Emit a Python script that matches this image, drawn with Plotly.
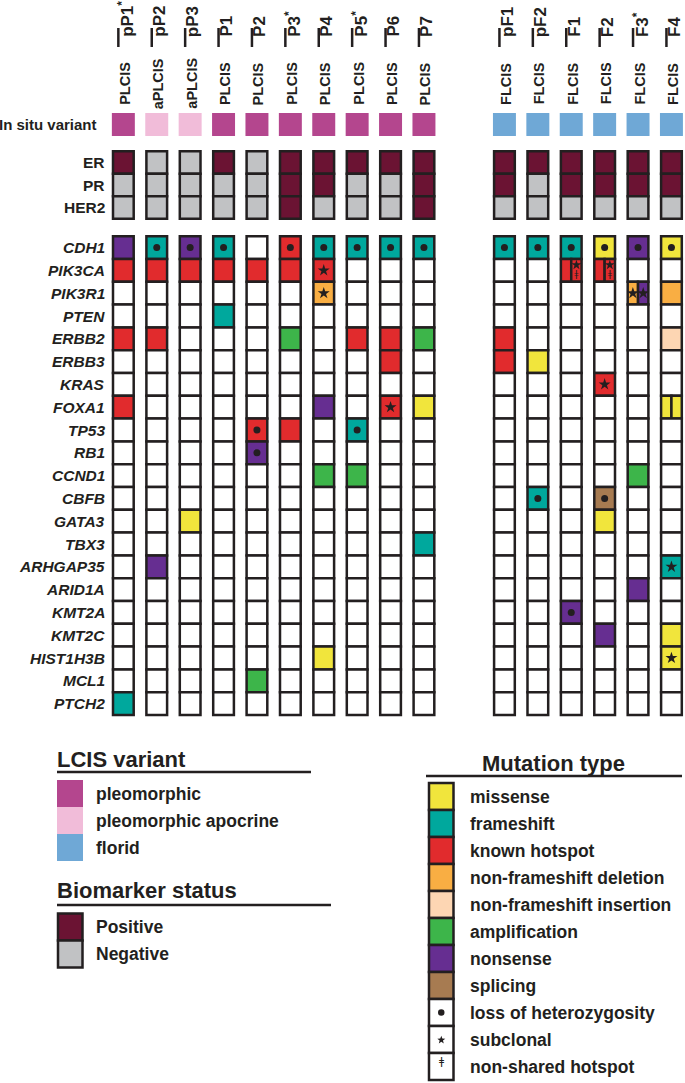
import math
import plotly.graph_objects as go

W, H = 685, 1083

# ---------------- data ----------------
columns = ["pP1*", "pP2", "pP3", "P1", "P2", "P3*", "P4", "P5*", "P6", "P7",
           "pF1", "pF2", "F1", "F2", "F3*", "F4"]
subtypes = ["PLCIS", "aPLCIS", "aPLCIS", "PLCIS", "PLCIS", "PLCIS", "PLCIS", "PLCIS", "PLCIS", "PLCIS",
            "FLCIS", "FLCIS", "FLCIS", "FLCIS", "FLCIS", "FLCIS"]
variants = ["pleomorphic", "pleomorphic apocrine", "pleomorphic apocrine", "pleomorphic", "pleomorphic",
            "pleomorphic", "pleomorphic", "pleomorphic", "pleomorphic", "pleomorphic",
            "florid", "florid", "florid", "florid", "florid", "florid"]

biomarkers = ["ER", "PR", "HER2"]
er_status   = [1, 0, 0, 1, 0, 1, 1, 1, 1, 1, 1, 1, 1, 1, 1, 1]
pr_status   = [0, 0, 0, 0, 0, 1, 1, 0, 0, 1, 1, 0, 1, 1, 1, 1]
her2_status = [0, 0, 0, 0, 0, 1, 0, 0, 0, 1, 0, 0, 0, 0, 0, 0]

genes = ["CDH1", "PIK3CA", "PIK3R1", "PTEN", "ERBB2", "ERBB3", "KRAS", "FOXA1", "TP53", "RB1",
         "CCND1", "CBFB", "GATA3", "TBX3", "ARHGAP35", "ARID1A", "KMT2A", "KMT2C", "HIST1H3B",
         "MCL1", "PTCH2"]

# (sample, gene, [type per part], [marks per part])  marks: L=LOH, S=subclonal, N=non-shared hotspot
mutations = [
    ("pP1*", "CDH1", ["nonsense"], [""]),
    ("pP1*", "PIK3CA", ["known hotspot"], [""]),
    ("pP1*", "ERBB2", ["known hotspot"], [""]),
    ("pP1*", "FOXA1", ["known hotspot"], [""]),
    ("pP1*", "PTCH2", ["frameshift"], [""]),
    ("pP2", "CDH1", ["frameshift"], ["L"]),
    ("pP2", "PIK3CA", ["known hotspot"], [""]),
    ("pP2", "ERBB2", ["known hotspot"], [""]),
    ("pP2", "ARHGAP35", ["nonsense"], [""]),
    ("pP3", "CDH1", ["nonsense"], ["L"]),
    ("pP3", "PIK3CA", ["known hotspot"], [""]),
    ("pP3", "GATA3", ["missense"], [""]),
    ("P1", "CDH1", ["frameshift"], ["L"]),
    ("P1", "PIK3CA", ["known hotspot"], [""]),
    ("P1", "PTEN", ["frameshift"], [""]),
    ("P2", "PIK3CA", ["known hotspot"], [""]),
    ("P2", "TP53", ["known hotspot"], ["L"]),
    ("P2", "RB1", ["nonsense"], ["L"]),
    ("P2", "MCL1", ["amplification"], [""]),
    ("P3*", "CDH1", ["known hotspot"], ["L"]),
    ("P3*", "PIK3CA", ["known hotspot"], [""]),
    ("P3*", "ERBB2", ["amplification"], [""]),
    ("P3*", "TP53", ["known hotspot"], [""]),
    ("P4", "CDH1", ["frameshift"], ["L"]),
    ("P4", "PIK3CA", ["known hotspot"], ["S"]),
    ("P4", "PIK3R1", ["non-frameshift deletion"], ["S"]),
    ("P4", "FOXA1", ["nonsense"], [""]),
    ("P4", "CCND1", ["amplification"], [""]),
    ("P4", "HIST1H3B", ["missense"], [""]),
    ("P5*", "CDH1", ["frameshift"], ["L"]),
    ("P5*", "ERBB2", ["known hotspot"], [""]),
    ("P5*", "TP53", ["frameshift"], ["L"]),
    ("P5*", "CCND1", ["amplification"], [""]),
    ("P6", "CDH1", ["frameshift"], ["L"]),
    ("P6", "ERBB2", ["known hotspot"], [""]),
    ("P6", "ERBB3", ["known hotspot"], [""]),
    ("P6", "FOXA1", ["known hotspot"], ["S"]),
    ("P7", "CDH1", ["frameshift"], ["L"]),
    ("P7", "ERBB2", ["amplification"], [""]),
    ("P7", "FOXA1", ["missense"], [""]),
    ("P7", "TBX3", ["frameshift"], [""]),
    ("pF1", "CDH1", ["frameshift"], ["L"]),
    ("pF1", "ERBB2", ["known hotspot"], [""]),
    ("pF1", "ERBB3", ["known hotspot"], [""]),
    ("pF2", "CDH1", ["frameshift"], ["L"]),
    ("pF2", "ERBB3", ["missense"], [""]),
    ("pF2", "CBFB", ["frameshift"], ["L"]),
    ("F1", "CDH1", ["frameshift"], ["L"]),
    ("F1", "PIK3CA", ["known hotspot", "known hotspot"], ["", "SN"]),
    ("F1", "KMT2A", ["nonsense"], ["L"]),
    ("F2", "CDH1", ["missense"], ["L"]),
    ("F2", "PIK3CA", ["known hotspot", "known hotspot"], ["", "SN"]),
    ("F2", "KRAS", ["known hotspot"], ["S"]),
    ("F2", "CBFB", ["splicing"], ["L"]),
    ("F2", "GATA3", ["missense"], [""]),
    ("F2", "KMT2C", ["nonsense"], [""]),
    ("F3*", "CDH1", ["nonsense"], ["L"]),
    ("F3*", "PIK3R1", ["non-frameshift deletion", "nonsense"], ["S", "S"]),
    ("F3*", "CCND1", ["amplification"], [""]),
    ("F3*", "ARID1A", ["nonsense"], [""]),
    ("F4", "CDH1", ["missense"], ["L"]),
    ("F4", "PIK3R1", ["non-frameshift deletion"], [""]),
    ("F4", "ERBB2", ["non-frameshift insertion"], [""]),
    ("F4", "FOXA1", ["missense", "missense"], ["", ""]),
    ("F4", "ARHGAP35", ["frameshift"], ["S"]),
    ("F4", "KMT2C", ["missense"], [""]),
    ("F4", "HIST1H3B", ["missense"], ["S"]),
]

variant_names = ["pleomorphic", "pleomorphic apocrine", "florid"]
variant_colors = ["#B4468E", "#F1BCD9", "#6FA8D6"]
status_names = ["Positive", "Negative"]
status_colors = ["#6B1333", "#C1C2C4"]
mutation_types = ["missense", "frameshift", "known hotspot", "non-frameshift deletion",
                  "non-frameshift insertion", "amplification", "nonsense", "splicing"]
mutation_colors = ["#F1E53C", "#00A89D", "#E12B2D", "#F9AE43", "#FDD6B3", "#3DB54A", "#662E91", "#A77B51"]
mark_names = ["loss of heterozygosity", "subclonal", "non-shared hotspot"]

# ---------------- geometry ----------------
PITCH_X, CX0 = 33.4, 123.35       # px per column, px center of first column
PITCH_Y, CY0 = 22.8, 247.6        # px per gene row, px center of first gene row
X0 = -CX0 / PITCH_X
X1 = X0 + W / PITCH_X
Y0 = -CY0 / PITCH_Y
Y1 = (H - CY0) / PITCH_Y

def ydat(py):
    return (py - CY0) / PITCH_Y

def px(x):
    return x / W

def py(y):
    return 1 - y / H

INK = "#231F20"
FONT = "Liberation Sans, Arial, sans-serif"
HW = 0.31
xpos = [j + (1.41 if subtypes[j] == "FLCIS" else 0.0) for j in range(len(columns))]
bio_y = [-3.73, -2.745, -1.76]
bio_hh = 0.493
var_y = ydat(124.5)

mut_color = dict(zip(mutation_types, mutation_colors))
var_color = dict(zip(variant_names, variant_colors))
mut_lookup = {(m[0], m[1]): (m[2], m[3]) for m in mutations}

shapes = []
annotations = []

def rect(x0, x1, y0, y1, fill, lw=2.5, lc=INK, xref="x", yref="y"):
    shapes.append(dict(type="rect", xref=xref, yref=yref, x0=x0, x1=x1, y0=y0, y1=y1,
                       fillcolor=fill, line=dict(color=lc, width=lw), layer="below"))

dots_x, dots_y, stars_x, stars_y, sstars_x, sstars_y, ns_x, ns_y = [], [], [], [], [], [], [], []

for j, col in enumerate(columns):
    x = xpos[j]
    # in situ variant
    rect(x - 0.344, x + 0.344, var_y - 0.504, var_y + 0.504, var_color[variants[j]], lw=0)
    # biomarkers
    for k, st in enumerate([er_status[j], pr_status[j], her2_status[j]]):
        rect(x - HW, x + HW, bio_y[k] - bio_hh, bio_y[k] + bio_hh,
             status_colors[0] if st else status_colors[1])
    # genes
    for i, g in enumerate(genes):
        if (col, g) in mut_lookup:
            types, marks = mut_lookup[(col, g)]
        else:
            types, marks = ["none"], [""]
        n = len(types)
        for p in range(n):
            xa = x - HW + p * 2 * HW / n
            xb = xa + 2 * HW / n
            rect(xa, xb, i - 0.5, i + 0.5, mut_color.get(types[p], "white"))
            xc = (xa + xb) / 2
            m = marks[p]
            if "L" in m:
                dots_x.append(xc); dots_y.append(i)
            if "S" in m and "N" in m:
                sstars_x.append(xc); sstars_y.append(i - 0.24)
                ns_x.append(xc); ns_y.append(i + 0.2)
            elif "S" in m:
                stars_x.append(xc); stars_y.append(i)
            elif "N" in m:
                ns_x.append(xc); ns_y.append(i)
    # column labels
    name = col.replace("*", "<sup>*</sup>")
    annotations.append(dict(text="<b>" + name + "</b>", x=x, y=ydat(39), xref="x", yref="y",
                            xshift=2.5, textangle=-90, xanchor="center", yanchor="bottom",
                            showarrow=False, font=dict(size=17, family=FONT, color=INK)))
    shapes.append(dict(type="line", xref="x", yref="y", x0=x - 5 / PITCH_X, x1=x - 5 / PITCH_X,
                       y0=ydat(28), y1=ydat(47), line=dict(color=INK, width=2.5)))
    annotations.append(dict(text="<b>" + subtypes[j] + "</b>", x=x, y=ydat(83.5), xref="x", yref="y",
                            xshift=1, textangle=-90, xanchor="center", yanchor="middle",
                            showarrow=False, font=dict(size=14.5, family=FONT, color=INK)))

fig = go.Figure()
fig.add_trace(go.Scatter(x=dots_x, y=dots_y, mode="markers", hoverinfo="skip", showlegend=False,
                         marker=dict(symbol="circle", size=7, color=INK)))
fig.add_trace(go.Scatter(x=stars_x, y=stars_y, mode="markers", hoverinfo="skip", showlegend=False,
                         marker=dict(symbol="star", size=9, color=INK)))
fig.add_trace(go.Scatter(x=sstars_x, y=sstars_y, mode="markers", hoverinfo="skip", showlegend=False,
                         marker=dict(symbol="star", size=7.5, color=INK)))
fig.add_trace(go.Scatter(x=ns_x, y=ns_y, mode="text", text=["ǂ" for _ in ns_x], hoverinfo="skip",
                         showlegend=False, textfont=dict(size=9, color=INK, family="DejaVu Sans")))

# row labels
annotations.append(dict(text="<b>In situ variant</b>", x=px(99), y=var_y, xref="paper", yref="y",
                        xanchor="right", yanchor="middle", showarrow=False,
                        font=dict(size=15, family=FONT, color=INK)))
for k, b in enumerate(biomarkers):
    annotations.append(dict(text="<b>" + b + "</b>", x=px(107), y=bio_y[k], xref="paper", yref="y",
                            xanchor="right", yanchor="middle", showarrow=False,
                            font=dict(size=15.5, family=FONT, color=INK)))
for i, g in enumerate(genes):
    annotations.append(dict(text="<b><i>" + g + "</i></b>", x=px(107), y=i, xref="paper", yref="y",
                            xanchor="right", yanchor="middle", showarrow=False,
                            font=dict(size=15.5, family=FONT, color=INK)))

# ---------------- legends ----------------
def ptext(t, x, y, size=17.5, xanchor="left"):
    annotations.append(dict(text=t, x=px(x), y=py(y), xref="paper", yref="paper",
                            xanchor=xanchor, yanchor="middle", showarrow=False,
                            font=dict(size=size, family=FONT, color=INK)))

def pline(x0, x1, y):
    shapes.append(dict(type="line", xref="paper", yref="paper", x0=px(x0), x1=px(x1),
                       y0=py(y), y1=py(y), line=dict(color=INK, width=2.5)))

def pstar(cx, cy, r):
    pts = []
    for t in range(10):
        rr = r if t % 2 == 0 else r * 0.42
        a = -math.pi / 2 + t * math.pi / 5
        pts.append((px(cx + rr * math.cos(a)), py(cy + rr * math.sin(a))))
    path = "M " + " L ".join("%.5f,%.5f" % p for p in pts) + " Z"
    shapes.append(dict(type="path", xref="paper", yref="paper", path=path,
                       fillcolor=INK, line=dict(width=0)))

# LCIS variant
ptext("<b>LCIS variant</b>", 55, 759, size=22)
pline(57, 311, 772)
for k, (nm, c) in enumerate(zip(variant_names, variant_colors)):
    y0 = 780 + 27 * k
    rect(px(57), px(83), py(y0), py(y0 + 27), c, lw=0, xref="paper", yref="paper")
    ptext("<b>" + nm + "</b>", 94, y0 + 13.5)

# Biomarker status
ptext("<b>Biomarker status</b>", 55, 890, size=22)
pline(57, 331, 905)
for k, (nm, c) in enumerate(zip(status_names, status_colors)):
    y0 = 913.5 + 27 * k
    rect(px(58), px(82.5), py(y0), py(y0 + 27), c, lw=2.5, xref="paper", yref="paper")
    ptext("<b>" + nm + "</b>", 94, y0 + 13.5)

# Mutation type
ptext("<b>Mutation type</b>", 553, 763, size=22, xanchor="center")
pline(426, 682, 776)
items = list(zip(mutation_types, mutation_colors)) + [(n, "white") for n in mark_names]
for k, (nm, c) in enumerate(items):
    y0 = 783 + 27 * k
    rect(px(429), px(453.5), py(y0), py(y0 + 27), c, lw=2.5, xref="paper", yref="paper")
    ptext("<b>" + nm + "</b>", 468, y0 + 13.5)
    cy = y0 + 13.5
    if nm == "loss of heterozygosity":
        shapes.append(dict(type="circle", xref="paper", yref="paper", x0=px(438), x1=px(444.5),
                           y0=py(cy - 3.25), y1=py(cy + 3.25), fillcolor=INK, line=dict(width=0)))
    elif nm == "subclonal":
        pstar(441.3, cy + 0.5, 4.2)
    elif nm == "non-shared hotspot":
        annotations.append(dict(text="ǂ", x=px(441.3), y=py(cy), xref="paper", yref="paper",
                                yshift=-3, showarrow=False,
                                font=dict(size=11, color=INK, family="DejaVu Sans")))

fig.update_layout(
    width=W, height=H, margin=dict(l=0, r=0, t=0, b=0),
    paper_bgcolor="white", plot_bgcolor="white",
    xaxis=dict(range=[X0, X1], visible=False, fixedrange=True),
    yaxis=dict(range=[Y1, Y0], visible=False, fixedrange=True),
    shapes=shapes, annotations=annotations, showlegend=False,
)

fig.write_html("out.html", config={"displayModeBar": False},
               post_script="document.body.style.margin='0px';")
